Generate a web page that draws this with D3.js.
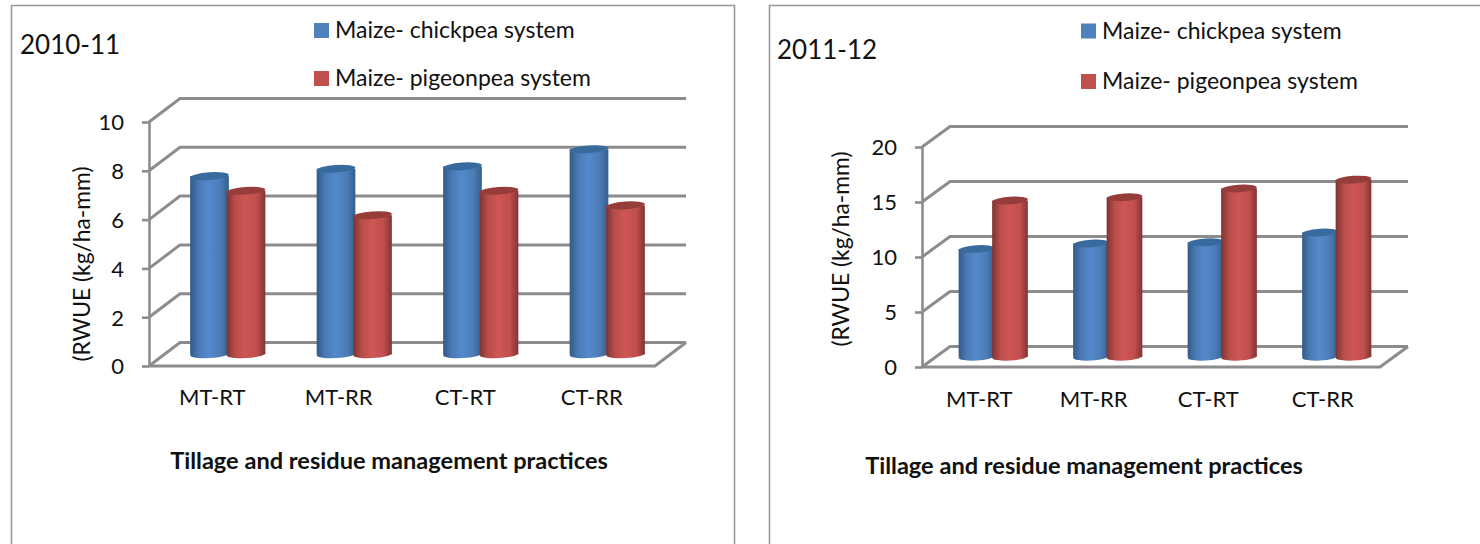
<!DOCTYPE html>
<html>
<head>
<meta charset="utf-8">
<script src="https://cdn.jsdelivr.net/npm/d3@7"></script>
<style>
	html, body { margin: 0; background: #fff; }
	svg { display: block; }
	text { font-family: Lato, sans-serif; fill: #111; }
</style>
</head>
<body>
<div id="chart"></div>
<script>
const categories = ["MT-RT", "MT-RR", "CT-RT", "CT-RR"];
const seriesNames = ["Maize- chickpea system", "Maize- pigeonpea system"];
const xAxisTitle = "Tillage and residue management practices";
const yAxisTitle = "(RWUE (kg/ha-mm)";

const chickpea2010 = [7.3, 7.6, 7.7, 8.4];
const pigeonpea2010 = [6.7, 5.7, 6.7, 6.1];
const ticks2010 = [0, 2, 4, 6, 8, 10];

const chickpea2011 = [9.8, 10.3, 10.4, 11.3];
const pigeonpea2011 = [14.2, 14.5, 15.3, 16.1];
const ticks2011 = [0, 5, 10, 15, 20];

const svg = d3.select("#chart")
	.append("svg")
	.attr("width", 1480)
	.attr("height", 544);

/*
Cylinder shading
*/
const defs = svg.append("defs");
const shades = [
	{id: "blue", stops: ["#305a88", "#4a7ab4", "#5489cb", "#4b7cb6", "#34608f"], top: "#386a9e", color: "#4f81bd"},
	{id: "red", stops: ["#7d3432", "#b84d4a", "#cf5654", "#c04f4d", "#803533"], top: "#963c3a", color: "#c0504d"}
];
shades.forEach((s) => {
	const grad = defs.append("linearGradient").attr("id", `cyl-${s.id}`);
	grad.selectAll("stop")
		.data(s.stops)
		.enter()
		.append("stop")
		.attr("offset", (d, i) => `${[0, 22, 48, 78, 100][i]}%`)
		.attr("stop-color", (d) => d);
});

function drawPanel(p) {
	const g = svg.append("g");

	// frame, open at the bottom
	g.append("path")
		.attr("d", `M${p.frame[0]},544V5.5H${p.frame[1]}${p.frame[2] ? "V544" : ""}`)
		.attr("fill", "none")
		.attr("stroke", "#999")
		.attr("stroke-width", 1.6);

	g.append("text")
		.attr("x", p.titleX)
		.attr("y", p.titleY)
		.attr("font-size", 26)
		.text(p.title);

	// legend
	seriesNames.forEach((name, i) => {
		g.append("rect")
			.attr("x", p.legendX)
			.attr("y", p.legendY[i] - 7.5)
			.attr("width", 15)
			.attr("height", 15)
			.attr("fill", shades[i].color);
		g.append("text")
			.attr("x", p.legendX + 21)
			.attr("y", p.legendY[i] + 7.5)
			.attr("font-size", 23)
			.text(name);
	});

	const y = d3.scaleLinear().domain([0, p.yMax]).range([p.y0, p.yTop]);
	const x = d3.scaleBand().domain(categories).range([p.x0, p.x1]);
	const sub = d3.scaleBand()
		.domain(seriesNames)
		.range([(x.bandwidth() - p.group) / 2, (x.bandwidth() + p.group) / 2]);
	const barW = sub.bandwidth() + 2.2;

	// back wall, side wall and floor
	const grid = g.append("g")
		.attr("fill", "none")
		.attr("stroke", "#8c8c8c")
		.attr("stroke-width", 3);
	grid.selectAll(".wall")
		.data(p.ticks)
		.enter()
		.append("path")
		.attr("class", "wall")
		.attr("d", (d) => `M${p.x0},${y(d)}L${p.x0 + p.dx},${y(d) - p.dy}H${p.x1 + p.dx}`);
	grid.append("path")
		.attr("d", `M${p.x0},${y(0)}H${p.x1}L${p.x1 + p.dx},${y(0) - p.dy}`);

	// y axis
	const axis = g.append("g")
		.attr("transform", `translate(${p.x0},0)`)
		.call(d3.axisLeft(y).tickValues(p.ticks).tickSize(7).tickSizeOuter(0).tickPadding(18));
	axis.selectAll("path, line").attr("stroke", "#8c8c8c").attr("stroke-width", 2.6);
	axis.selectAll("text")
		.attr("font-size", 22)
		.attr("dy", "0.36em")
		.style("font-family", "Lato, sans-serif")
		.attr("fill", "#111");

	g.append("text")
		.attr("transform", `translate(${p.yTitleX},${p.yTitleY}) rotate(-90)`)
		.attr("text-anchor", "middle")
		.attr("font-size", 22.8)
		.text(yAxisTitle);

	// category labels
	g.selectAll(".cat")
		.data(categories)
		.enter()
		.append("text")
		.attr("class", "cat")
		.attr("x", (d) => x(d) + x.bandwidth() / 2)
		.attr("y", p.catY)
		.attr("text-anchor", "middle")
		.attr("font-size", 22)
		.text((d) => d);

	g.append("text")
		.attr("x", p.xTitleX)
		.attr("y", p.xTitleY)
		.attr("text-anchor", "middle")
		.attr("font-size", 23.6)
		.attr("font-weight", "bold")
		.text(xAxisTitle);

	// cylinders, blue first so the red one sits on top of it
	const rows = [];
	categories.forEach((c, i) => {
		rows.push({cat: c, s: 0, v: p.values[0][i]});
		rows.push({cat: c, s: 1, v: p.values[1][i]});
	});
	const bars = g.selectAll(".bar")
		.data(rows)
		.enter()
		.append("g")
		.attr("class", "bar")
		.attr("transform", (d) => `translate(${x(d.cat) + sub(seriesNames[d.s]) + sub.bandwidth() / 2 + p.dx / 2},0)`);
	const baseY = y(0) - p.dy / 2;
	bars.append("ellipse")
		.attr("rx", barW / 2)
		.attr("ry", 3.8)
		.attr("transform", `translate(0,${baseY}) rotate(-3)`)
		.attr("fill", (d) => `url(#cyl-${shades[d.s].id})`);
	bars.append("rect")
		.attr("x", -barW / 2)
		.attr("width", barW)
		.attr("y", (d) => y(d.v) - p.dy / 2)
		.attr("height", (d) => baseY - (y(d.v) - p.dy / 2))
		.attr("fill", (d) => `url(#cyl-${shades[d.s].id})`);
	bars.append("ellipse")
		.attr("rx", barW / 2)
		.attr("ry", 3.8)
		.attr("transform", (d) => `translate(0,${y(d.v) - p.dy / 2}) rotate(-4)`)
		.attr("fill", (d) => shades[d.s].top);
}

drawPanel({
	title: "2010-11", titleX: 20, titleY: 54,
	frame: [11.5, 734.5, true],
	legendX: 314, legendY: [30.5, 78.5],
	values: [chickpea2010, pigeonpea2010], ticks: ticks2010, yMax: 10,
	x0: 149, x1: 655, y0: 366, yTop: 122, dx: 31, dy: 23.5, group: 73,
	yTitleX: 90, yTitleY: 264, catY: 405, xTitleX: 389, xTitleY: 469
});

drawPanel({
	title: "2011-12", titleX: 777, titleY: 59,
	frame: [769.5, 1480, false],
	legendX: 1081, legendY: [31, 81.5],
	values: [chickpea2011, pigeonpea2011], ticks: ticks2011, yMax: 20,
	x0: 922, x1: 1380, y0: 367, yTop: 147, dx: 28, dy: 20.5, group: 67,
	yTitleX: 849, yTitleY: 249, catY: 407, xTitleX: 1084, xTitleY: 474
});
</script>
</body>
</html>
